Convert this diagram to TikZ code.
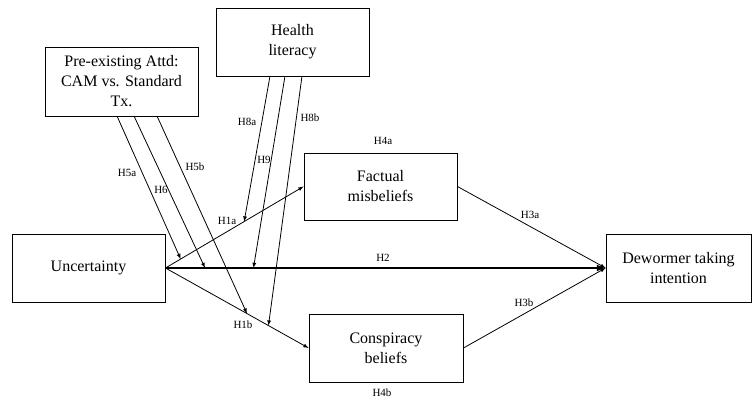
\documentclass[tikz,border=0pt]{standalone}
\usepackage{fontspec}
\setmainfont{Liberation Serif}
\usetikzlibrary{calc}

\begin{document}
\begin{tikzpicture}[> = latex, x=1pt, y=-1pt]
    \tikzset{
      var/.style={draw, line width=0.9pt, align=center, inner sep=0pt,
        font=\fontsize{16}{20}\selectfont},
      lbl/.style={font=\fontsize{11}{13}\selectfont, inner sep=0pt},
      path/.style={->, line width=0.8pt},
    }
    \useasboundingbox (0,0) rectangle (752,403);
    % variables
    \node [var, minimum width=153pt, minimum height=69pt] (pre) at (121.5,81.5) {Pre-existing Attd:\\CAM vs. Standard\\Tx.};
    \node [var, minimum width=153pt, minimum height=68pt] (hl) at (292.5,42) {Health\\literacy};
    \node [var, minimum width=153pt, minimum height=68pt] (unc) at (88.5,268) {Uncertainty};
    \node [var, minimum width=153pt, minimum height=67pt] (fact) at (380.5,186.5) {Factual\\misbeliefs};
    \node [var, minimum width=154pt, minimum height=68pt] (consp) at (386,348) {Conspiracy\\beliefs};
    \node [var, minimum width=145pt, minimum height=68pt] (dew) at (678.5,268) {Dewormer taking\\intention};
    % main paths
    \path[path] (unc.east) edge (fact.west);
    \path[path] (unc.east) edge (consp.west);
    \path[->, line width=2pt] (unc.east) edge (dew.west);
    \path[path] (fact.east) edge (dew.west);
    \path[path] (consp.east) edge (dew.west);
    % moderators
    \coordinate (h5a) at ($(unc.east)!0.11!(fact.west)$);
    \coordinate (h8a) at ($(unc.east)!0.57!(fact.west)$);
    \coordinate (h6) at ($(unc.east)!0.09!(dew.west)$);
    \coordinate (h9) at ($(unc.east)!0.2!(dew.west)$);
    \coordinate (h5b) at ($(unc.east)!0.57!(consp.west)$);
    \coordinate (h8b) at ($(unc.east)!0.72!(consp.west)$);
    \path[path] (117,116) edge (h5a);
    \path[path] (134,116) edge (h6);
    \path[path] (157,116) edge (h5b);
    \path[path] (270,76) edge (h8a);
    \path[path] (285,76) edge (h9);
    \path[path] (302,76) edge (h8b);
    % labels
    \node [lbl] (l5a) at (127,173) {H5a};
    \node [lbl] (l6) at (161,190) {H6};
    \node [lbl] (l5b) at (195,167) {H5b};
    \node [lbl] (l8a) at (247,122) {H8a};
    \node [lbl] (l9) at (264,160) {H9};
    \node [lbl] (l8b) at (310,118) {H8b};
    \node [lbl] (l4a) at (383,141) {H4a};
    \node [lbl] (l1a) at (227,221) {H1a};
    \node [lbl] (l1b) at (243,325) {H1b};
    \node [lbl] (l2) at (383,258) {H2};
    \node [lbl] (l4b) at (382,393) {H4b};
    \node [lbl] (l3a) at (530,215) {H3a};
    \node [lbl] (l3b) at (524,303) {H3b};
\end{tikzpicture}
\end{document}
